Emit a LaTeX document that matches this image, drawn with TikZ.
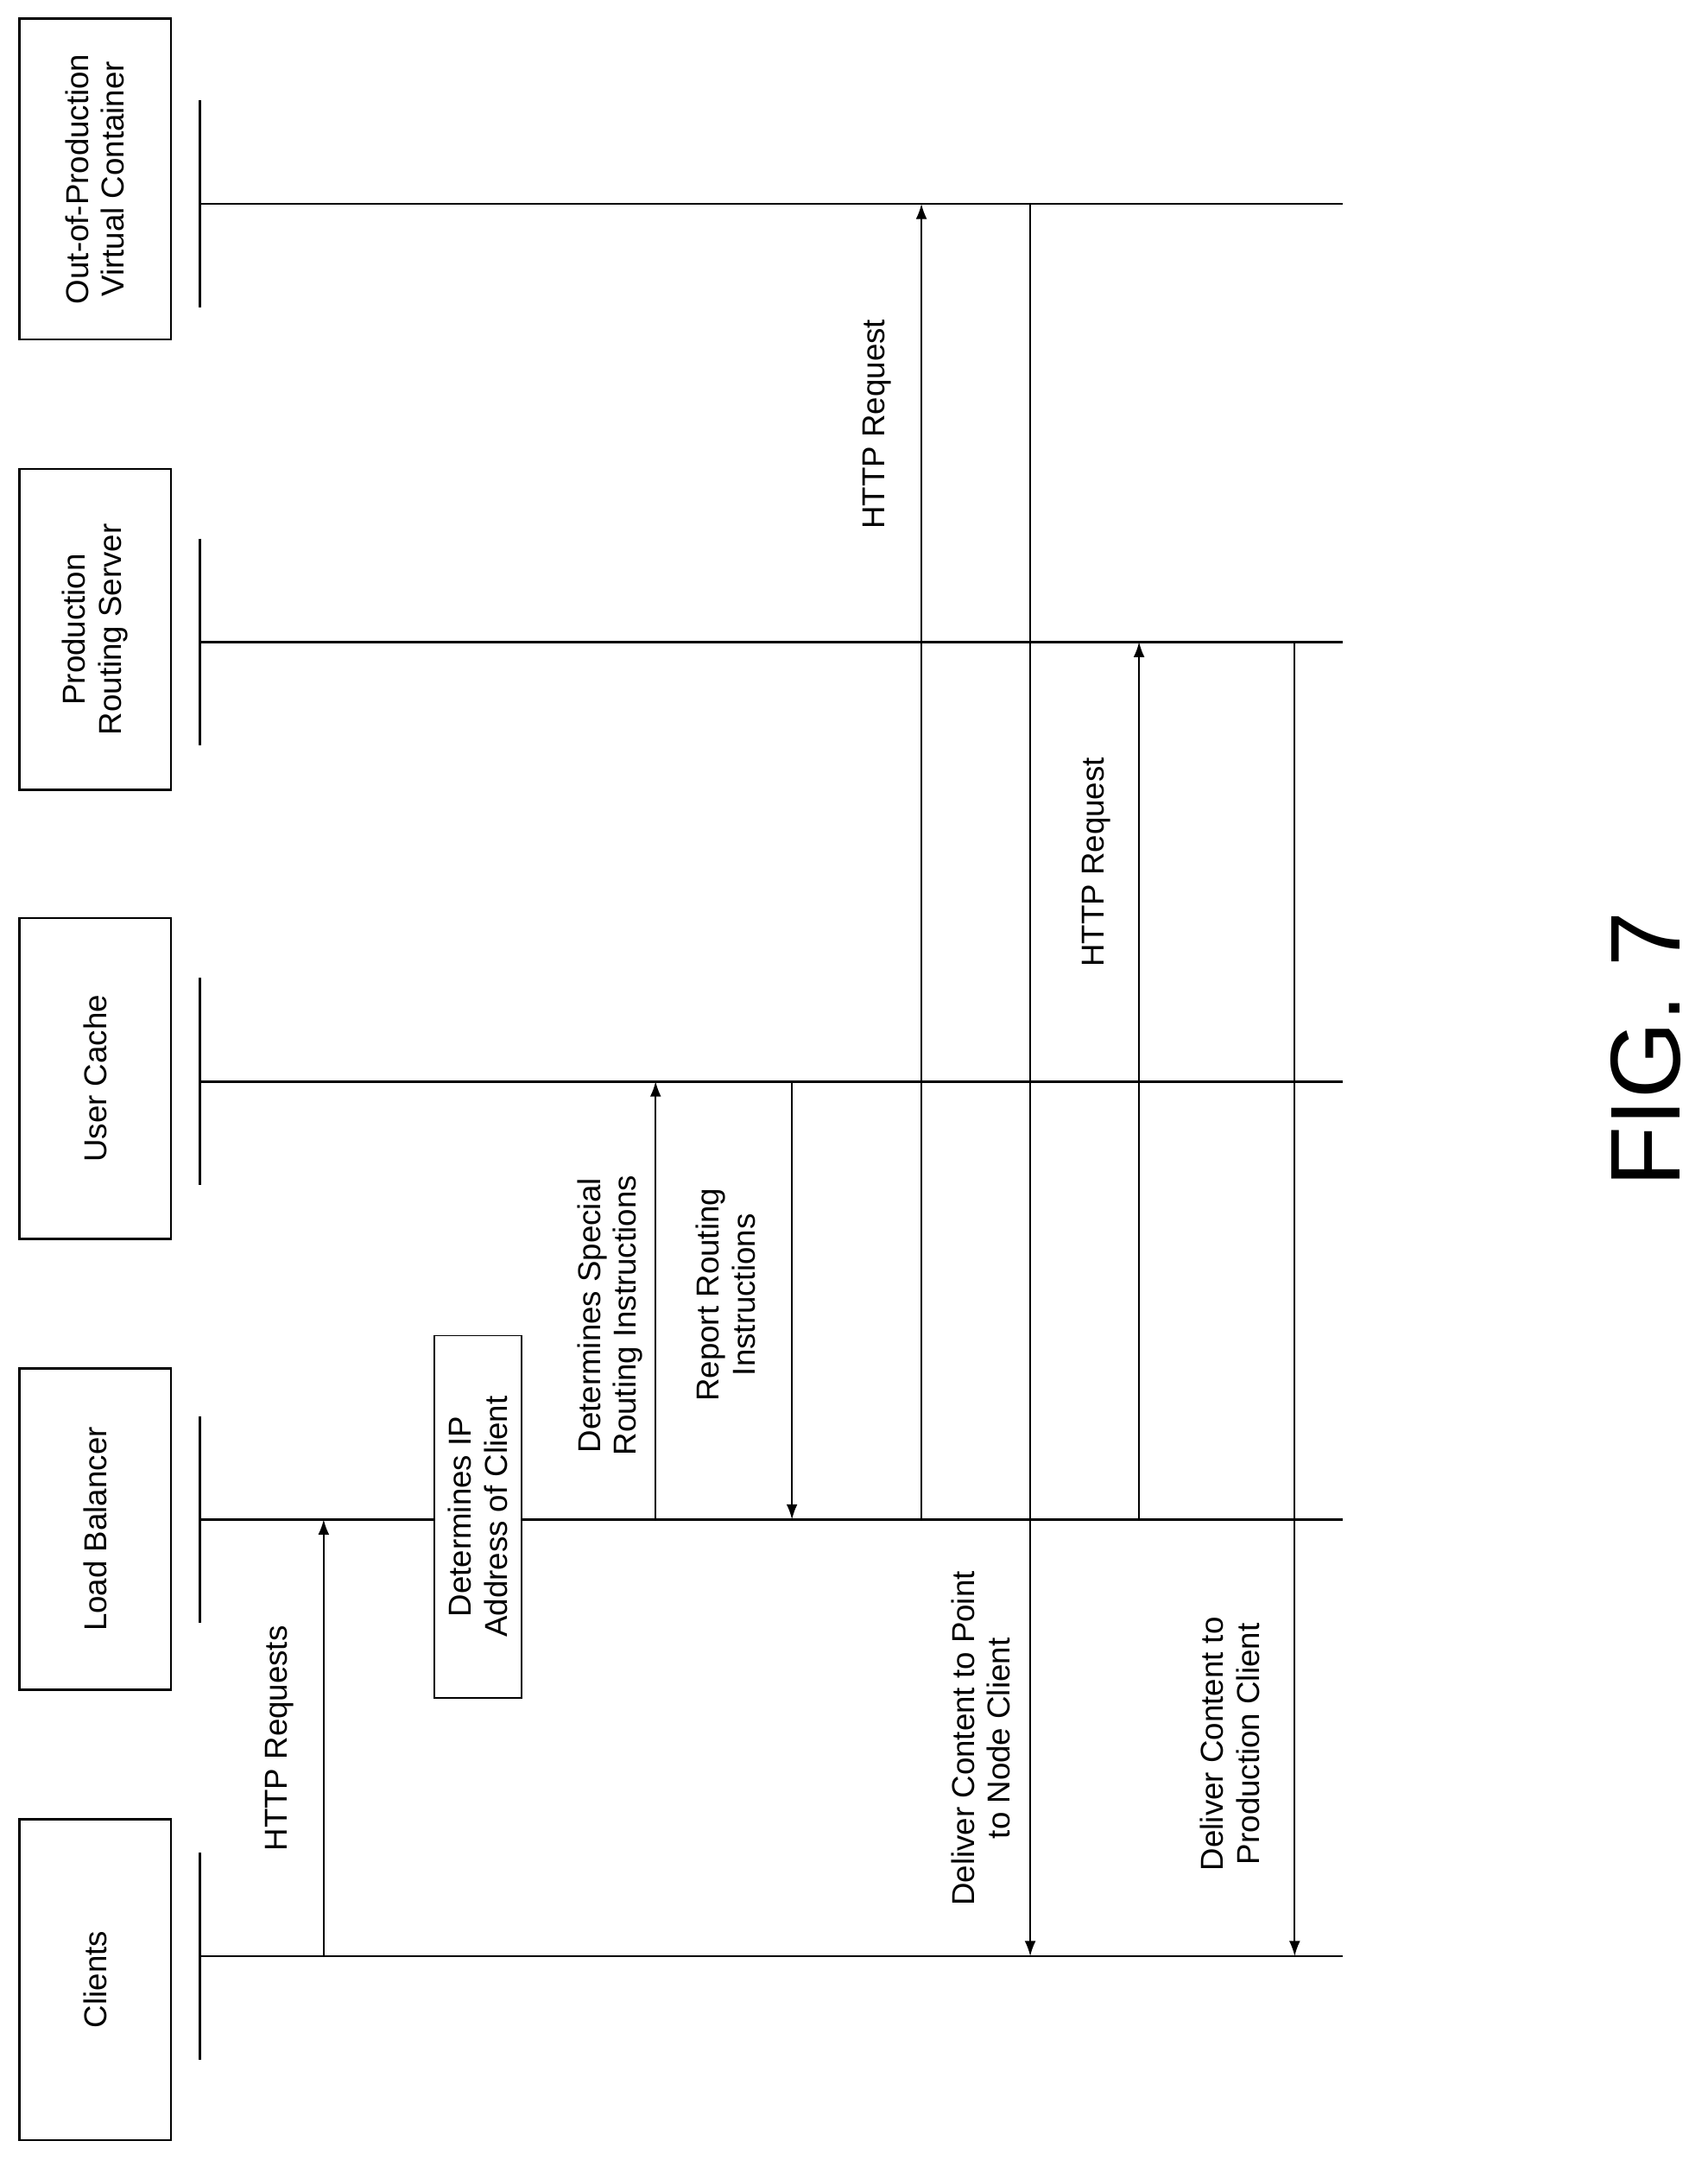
\documentclass[tikz,border=0pt]{standalone}
\usepackage{fontspec}
\setmainfont{Liberation Sans}
\usetikzlibrary{arrows.meta}
\tikzset{
  actor/.style={draw,line width=1.6pt,minimum width=233pt,minimum height=110pt,rotate=90,align=center,font=\fontsize{23}{26}\selectfont},
  life/.style={line width=1.8pt},
  msg/.style={line width=1.1pt,-{Latex[length=11pt,width=8pt]}},
  lbl/.style={rotate=90,align=center,font=\fontsize{23}{26}\selectfont}
}
\begin{document}
\begin{tikzpicture}[x=1pt,y=-1pt]
\useasboundingbox (0,0) rectangle (1240,1568);
%% actors
\node[actor] (clients) at (69,1437) {Clients};
\node[actor] (lb) at (69,1110) {Load Balancer};
\node[actor] (uc) at (69,783) {User Cache};
\node[actor] (prs) at (69,457) {Production\\Routing Server};
\node[actor] (oop) at (69,130) {Out-of-Production\\Virtual Container};
%% lifelines
\foreach \n/\y in {cl/1420,lb/1103,uc/785,prs/466,oop/148}{
  \draw[life] (145,\y) coordinate (\n_s) -- (975,\y) coordinate (\n_e);
  \draw[life] (145,\y-75) -- (145,\y+75);
}
%% messages
\draw[msg] (235,1420) coordinate (m1a) -- (235,1103) coordinate (m1b);
\node[lbl] (l1) at (203,1262) {HTTP Requests};
\node[draw,fill=white,line width=1.1pt,rotate=90,align=center,minimum width=263pt,minimum height=63pt,font=\fontsize{23}{26}\selectfont] (ipbox) at (347,1101) {Determines IP\\Address of Client};
\draw[msg] (476,1103) coordinate (m2a) -- (476,785) coordinate (m2b);
\node[lbl] (l2) at (443,955) {Determines Special\\Routing Instructions};
\draw[msg] (575,785) coordinate (m3a) -- (575,1103) coordinate (m3b);
\node[lbl] (l3) at (527,940) {Report Routing\\Instructions};
\draw[msg] (669,1103) coordinate (m4a) -- (669,148) coordinate (m4b);
\node[lbl] (l4) at (637,308) {HTTP Request};
\draw[msg] (748,148) coordinate (m5a) -- (748,1420) coordinate (m5b);
\node[lbl] (l5) at (712,1262) {Deliver Content to Point\\to Node Client};
\draw[msg] (827,1103) coordinate (m6a) -- (827,466) coordinate (m6b);
\node[lbl] (l6) at (796,626) {HTTP Request};
\draw[msg] (940,466) coordinate (m7a) -- (940,1420) coordinate (m7b);
\node[lbl] (l7) at (893,1266) {Deliver Content to\\Production Client};
%
\node[rotate=90,font=\fontsize{72}{76}\selectfont] (fig) at (1195,762) {FIG. 7};
\end{tikzpicture}
\end{document}
